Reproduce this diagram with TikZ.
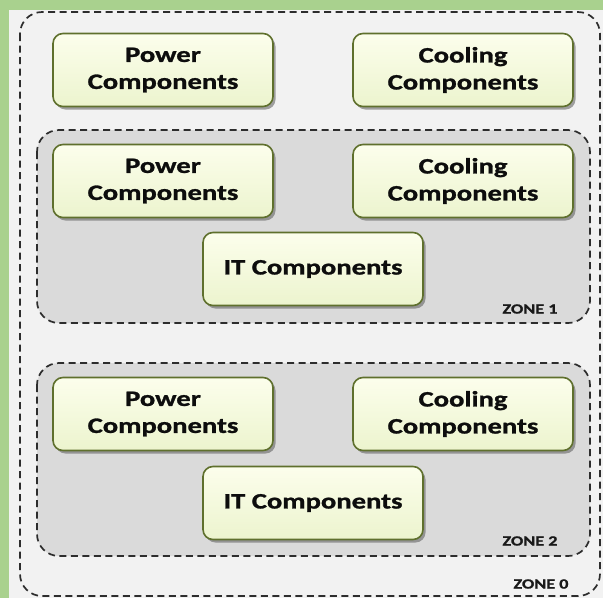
\documentclass[tikz,border=0pt]{standalone}
\usepackage{fontspec}
\newfontfamily\boxfont[FakeStretch=1.3,FakeBold=1.2]{Carlito}
\usetikzlibrary{shadows}
\definecolor{bggreen}{RGB}{169,209,142}
\definecolor{panel}{RGB}{242,242,242}
\definecolor{zonefill}{RGB}{218,218,218}
\definecolor{zoneline}{RGB}{45,45,45}
\definecolor{boxtop}{RGB}{252,254,236}
\definecolor{boxbot}{RGB}{236,244,206}
\definecolor{boxline}{RGB}{95,112,45}
\tikzset{
  zonebox/.style={draw=zoneline, line width=1.7pt, dash pattern=on 7pt off 4.5pt, rounded corners=22pt},
  compbox/.style={draw=boxline, line width=1.6pt, rounded corners=10pt,
    top color=boxtop, bottom color=boxbot, minimum width=220pt, minimum height=73pt,
    align=center, font=\boxfont\bfseries\fontsize{22}{27}\selectfont, text=black!95,
    drop shadow={shadow xshift=2.5pt, shadow yshift=-3pt, opacity=0.55, fill=black!65}},
  zonelabel/.style={font=\boxfont\bfseries\fontsize{14}{16}\selectfont, text=black!90}
}
\begin{document}
\begin{tikzpicture}[x=1pt,y=-1pt]
\useasboundingbox (0,0) rectangle (603,598);
\fill[bggreen] (0,0) rectangle (603,598);
\fill[panel] (9,10) rectangle (603,598);
% zone 0
\draw[zonebox] (20,12) rectangle (600,596);
\node[zonelabel] (z0) at (541,584) {ZONE 0};
% zone 1
\filldraw[zonebox, fill=zonefill] (37,130) rectangle (590,323);
\node[zonelabel] (z1) at (530,309) {ZONE 1};
% zone 2
\filldraw[zonebox, fill=zonefill] (37,363) rectangle (590,556);
\node[zonelabel] (z2) at (530,541) {ZONE 2};
% components
\node[compbox] (p0) at (163,70) {Power\\Components};
\node[compbox] (c0) at (463,70) {Cooling\\Components};
\node[compbox] (p1) at (163,181) {Power\\Components};
\node[compbox] (c1) at (463,181) {Cooling\\Components};
\node[compbox] (it1) at (313,269) {IT Components};
\node[compbox] (p2) at (163,414) {Power\\Components};
\node[compbox] (c2) at (463,414) {Cooling\\Components};
\node[compbox] (it2) at (313,503) {IT Components};
\end{tikzpicture}
\end{document}
